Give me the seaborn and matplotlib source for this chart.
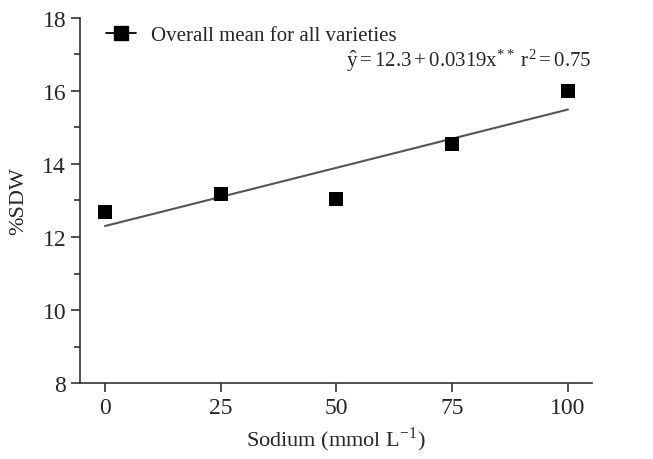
import numpy as np
import pandas as pd
import matplotlib.pyplot as plt
from matplotlib.lines import Line2D
from matplotlib.ticker import MultipleLocator
import seaborn as sns

# data
sodium = [0, 25, 50, 75, 100]
sdw = [12.68, 13.18, 13.04, 14.55, 16.0]
intercept = 12.3
slope = 0.0319

df = pd.DataFrame({'sodium': sodium, 'sdw': sdw})
fit = pd.DataFrame({'sodium': [0, 100]})
fit['sdw'] = intercept + slope * fit['sodium']

sns.set_style('ticks')
plt.rcParams['font.family'] = ['Liberation Serif', 'DejaVu Serif']
plt.rcParams['mathtext.fontset'] = 'stix'

fig = plt.figure(figsize=(6.53, 4.6), dpi=100)
ax = fig.add_axes([0.1225, 0.165, 0.784, 0.794])

sns.lineplot(data=fit, x='sodium', y='sdw', color='#555555', lw=1.5, ax=ax)
sns.scatterplot(data=df, x='sodium', y='sdw', marker='s', s=105, color='black',
                edgecolor='black', linewidth=0, ax=ax, zorder=3)

ax.set_xlim(-5.4, 105.2)
ax.set_ylim(8, 18)
ax.set_xticks([0, 25, 50, 75, 100])
ax.set_yticks([8, 10, 12, 14, 16, 18])
ax.yaxis.set_minor_locator(MultipleLocator(1))
ax.tick_params(axis='both', which='major', labelsize=17, length=6.5, width=1.2, color='#333333')
ax.tick_params(axis='y', which='minor', length=4, width=1.2, color='#333333')
for s in ['left', 'bottom']:
    ax.spines[s].set_linewidth(1.2)
    ax.spines[s].set_color('#333333')
sns.despine(ax=ax)

ax.set_xlabel('Sodium (mmol L$^{\\mathregular{-1}}$)', fontsize=16, labelpad=5)
ax.set_ylabel('%SDW', fontsize=16, labelpad=10)

handle = Line2D([], [], color='black', marker='s', markersize=10, lw=1.3)
ax.legend([handle], ['Overall mean for all varieties'], loc='upper left',
          bbox_to_anchor=(0.015, 1.03), frameon=False, fontsize=15,
          handlelength=1.4, handletextpad=0.75)

ax.text(1.0, 0.885, r'$\mathregular{\hat{y} = 12.3 + 0.0319x^{**}\ r^2 = 0.75}$',
        transform=ax.transAxes, ha='right', va='center', fontsize=15)

fig.savefig('out.png', dpi=100)
